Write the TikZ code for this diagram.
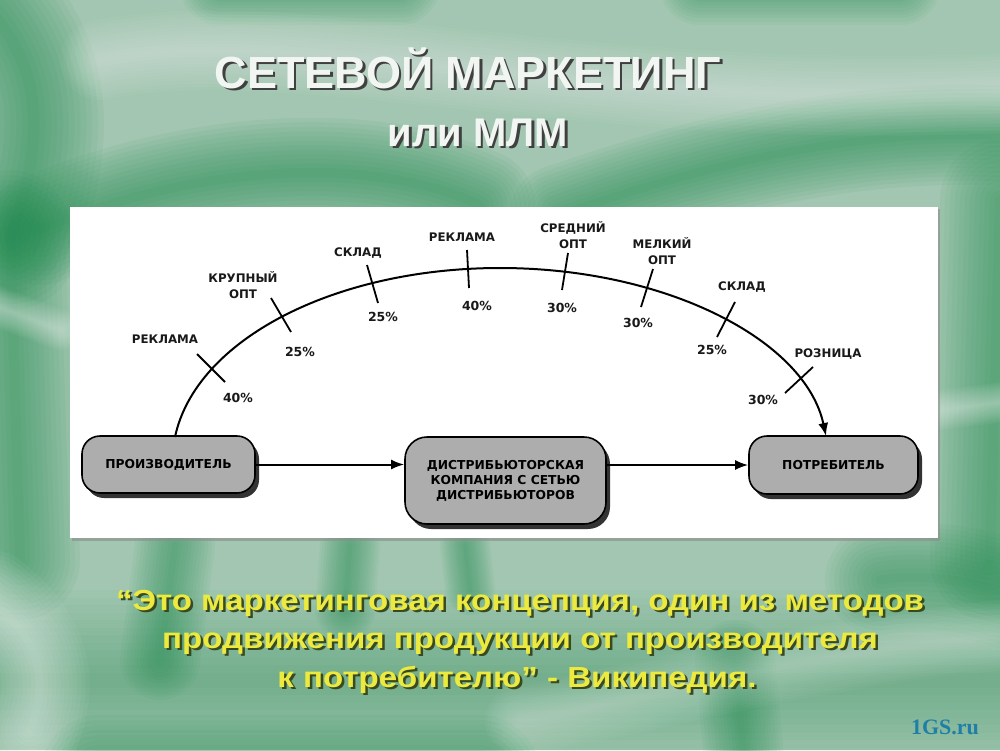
\documentclass[tikz,border=0pt]{standalone}
\usepackage{fontspec}
\setmainfont{Liberation Sans}
\newfontfamily\dv{DejaVu Sans}
\newfontfamily\gsfont{Liberation Serif}
\newfontfamily\widefont[FakeStretch=1.14]{Liberation Sans}
\usetikzlibrary{arrows.meta,shadows}
\definecolor{bgbase}{HTML}{A2C6B1}
\definecolor{dkgreen}{HTML}{1E8C4E}
\definecolor{boxgray}{HTML}{ADADAD}
\definecolor{quoteyellow}{HTML}{ECEA3E}
\definecolor{quoteshadow}{HTML}{3A4A20}
\definecolor{titlewhite}{HTML}{F2F6F2}
\definecolor{gsblue}{HTML}{1F7FA6}
\newcommand{\shadowed}[3]{\makebox[0pt][l]{\hspace{2.5pt}\raisebox{-2.5pt}{\textcolor{#2}{#1}}}\textcolor{#3}{#1}}
\newcommand{\softpath}[4]{\foreach \i in {1,...,12}{\pgfmathsetmacro{\lw}{#2*\i/12}\draw[#1, line cap=round, line width=\lw pt, opacity=#3] #4;}}
\begin{document}
\begin{tikzpicture}[x=1pt,y=-1pt,
  lbl/.style={font=\dv\bfseries\fontsize{11.8}{16}\selectfont, align=center, inner sep=0pt, text=black!90},
  pct/.style={font=\dv\bfseries\fontsize{12.5}{16}\selectfont, inner sep=0pt, text=black!90},
  box/.style={draw=black, line width=1.6pt, fill=boxgray, rounded corners=18pt, inner sep=0pt, align=center,
    font=\dv\bfseries\fontsize{12.3}{15}\selectfont,
    drop shadow={shadow xshift=4pt, shadow yshift=-5pt, fill=black!80, opacity=1}},
  flow/.style={line width=2pt, -{Latex[length=13pt,width=10pt]}},
  tickmark/.style={line width=1.8pt},
  titletext/.style={font=\bfseries\fontsize{45}{50}\selectfont, anchor=base, inner sep=0pt},
  quotetext/.style={font=\widefont\bfseries\fontsize{29}{34}\selectfont, anchor=base, inner sep=0pt}
]
\useasboundingbox (0,0) rectangle (1000,750);
% ---------- background ----------
\fill[bgbase] (0,0) rectangle (1000,750);
\begin{scope}
\clip (0,0) rectangle (1000,750);
\softpath{dkgreen}{140}{0.06}{(-10,10) .. controls (50,80) and (40,150) .. (10,240)}
\softpath{dkgreen}{110}{0.06}{(40,230) .. controls (180,170) and (360,150) .. (480,205)}
\softpath{dkgreen}{100}{0.06}{(560,215) .. controls (720,160) and (880,120) .. (1060,140)}
\softpath{dkgreen}{80}{0.05}{(220,-15) -- (400,-15)}
\softpath{dkgreen}{80}{0.05}{(700,-15) -- (900,-15)}
\softpath{white}{80}{0.035}{(100,60) .. controls (300,20) and (600,120) .. (1060,90)}
\softpath{dkgreen}{120}{0.055}{(10,230) -- (20,560)}
\softpath{white}{40}{0.04}{(-20,300) -- (60,330)}
\softpath{dkgreen}{120}{0.055}{(1000,200) -- (990,560)}
\softpath{white}{40}{0.04}{(940,410) -- (1020,400)}
\softpath{dkgreen}{180}{0.03}{(-20,680) -- (1020,680)}
\softpath{dkgreen}{80}{0.05}{(175,545) -- (160,660)}
\softpath{dkgreen}{60}{0.05}{(350,545) -- (345,610)}
\softpath{dkgreen}{50}{0.05}{(465,545) -- (470,590)}
\softpath{dkgreen}{80}{0.05}{(735,660) -- (745,770)}
\softpath{dkgreen}{120}{0.06}{(100,775) -- (480,775)}
\softpath{dkgreen}{110}{0.05}{(880,580) .. controls (940,570) and (1000,590) .. (1060,610)}
\softpath{white}{100}{0.045}{(-10,600) .. controls (40,640) and (50,680) .. (30,730)}
\softpath{white}{70}{0.03}{(520,720) .. controls (650,700) and (800,650) .. (1060,630)}
\end{scope}
% ---------- titles ----------
\node[titletext] (title) at (468,88) {\shadowed{СЕТЕВОЙ МАРКЕТИНГ}{black!75}{titlewhite}};
\node[titletext, font=\bfseries\fontsize{40}{44}\selectfont] (sub) at (478,146) {\shadowed{или МЛМ}{black!75}{titlewhite}};
% ---------- panel ----------
\fill[black!45, opacity=0.6] (72,209) rectangle (940,540.5);
\fill[white] (70,207) rectangle (938,538);
% ---------- boxes ----------
\node[box, minimum width=173pt, minimum height=57pt] (prod) at (168.5,464.5) {ПРОИЗВОДИТЕЛЬ};
\node[box, minimum width=201pt, minimum height=87pt, rounded corners=22pt] (dist) at (505.5,480.5) {ДИСТРИБЬЮТОРСКАЯ\\КОМПАНИЯ С СЕТЬЮ\\ДИСТРИБЬЮТОРОВ};
\node[box, minimum width=169pt, minimum height=58pt] (cons) at (833.5,465) {ПОТРЕБИТЕЛЬ};
\draw[flow] (prod.east) -- (dist.west |- prod.east);
\draw[flow] (dist.east |- cons.west) -- (cons.west);
% ---------- arc ----------
\coordinate (A) at (175,437);
\coordinate (T) at (500,268);
\coordinate (B) at (826,436);
\draw[line width=2pt] (A) .. controls (195.6,339.6) and (334.7,268) .. (T);
\draw[flow] (T) .. controls (666,268) and (805.4,340.2) .. (B);
% ---------- ticks ----------
\draw[tickmark] (197,354) -- (225,382);
\draw[tickmark] (271,298) -- (291,332);
\draw[tickmark] (367,265) -- (378,303);
\draw[tickmark] (467,250) -- (469,288);
\draw[tickmark] (568,253) -- (562,290);
\draw[tickmark] (653,269) -- (641,307);
\draw[tickmark] (735,302) -- (717,337);
\draw[tickmark] (813,367) -- (785,393);
% ---------- labels ----------
\node[lbl] (l1) at (165,339) {РЕКЛАМА};
\node[pct] (p1) at (238,398) {40\%};
\node[lbl] (l2) at (243,285) {КРУПНЫЙ\\ОПТ};
\node[pct] (p2) at (300,352) {25\%};
\node[lbl] (l3) at (358,253) {СКЛАД};
\node[pct] (p3) at (383,317) {25\%};
\node[lbl] (l4) at (462,237) {РЕКЛАМА};
\node[pct] (p4) at (477,306) {40\%};
\node[lbl] (l5) at (573,235) {СРЕДНИЙ\\ОПТ};
\node[pct] (p5) at (562,308) {30\%};
\node[lbl] (l6) at (662,251) {МЕЛКИЙ\\ОПТ};
\node[pct] (p6) at (638,323) {30\%};
\node[lbl] (l7) at (742,287) {СКЛАД};
\node[pct] (p7) at (712,350) {25\%};
\node[lbl] (l8) at (828,354) {РОЗНИЦА};
\node[pct] (p8) at (763,400) {30\%};
% ---------- quote ----------
\node[quotetext] (q1) at (520,610) {\shadowed{“Это маркетинговая концепция, один из методов}{quoteshadow}{quoteyellow}};
\node[quotetext] (q2) at (520,648) {\shadowed{продвижения продукции от производителя}{quoteshadow}{quoteyellow}};
\node[quotetext] (q3) at (517,687) {\shadowed{к потребителю” - Википедия.}{quoteshadow}{quoteyellow}};
% ---------- watermark ----------
\node[font=\gsfont\bfseries\fontsize{22}{24}\selectfont, text=gsblue, inner sep=0pt] (gs) at (945,727) {1GS.ru};
\end{tikzpicture}
\end{document}
